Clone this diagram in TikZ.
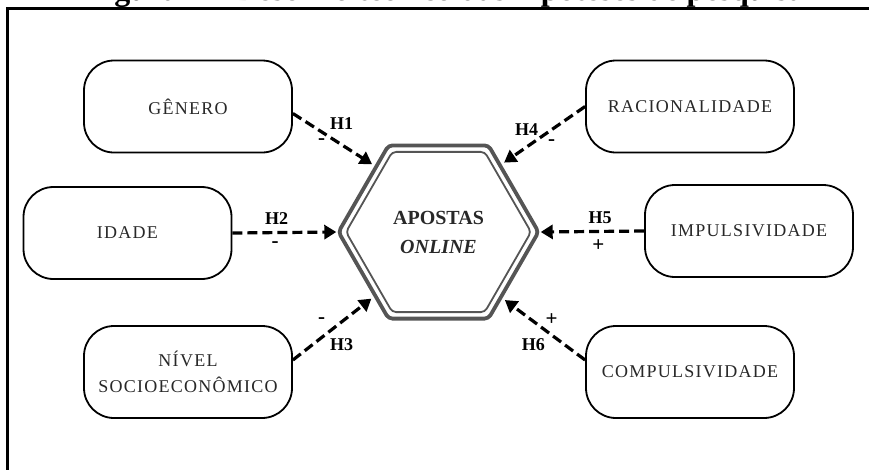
\documentclass[tikz,border=0pt]{standalone}
\usepackage{fontspec}
\setmainfont{Liberation Serif}
\newfontfamily\spacedserif[LetterSpace=7]{Liberation Serif}
\usetikzlibrary{arrows.meta,shapes.geometric,calc}
\definecolor{hexgray}{RGB}{85,85,85}
\definecolor{labelink}{RGB}{40,40,40}

\begin{document}
\begin{tikzpicture}[x=1pt,y=-1pt,
  varbox/.style={draw, line width=1.8pt, rounded corners=30pt, fill=white,
    minimum width=208pt, minimum height=92pt, inner sep=0pt, align=center,
    text=labelink, font=\spacedserif\fontsize{18}{26}\selectfont},
  hyp/.style={draw, line width=3.2pt, dash pattern=on 10pt off 5pt,
    -{Triangle[length=12pt,width=14pt]}},
  diag/.style={shorten >=3pt},
  hyplabel/.style={font=\bfseries\fontsize{18}{18}\selectfont, inner sep=0pt},
  sign/.style={font=\bfseries\fontsize{21}{21}\selectfont, inner sep=0pt},
  hexagon/.style={regular polygon, regular polygon sides=6, draw=hexgray,
    rounded corners=4pt, inner sep=0pt}
]
\useasboundingbox (0,0) rectangle (869,469);
\clip (0,0) rectangle (869,469);

% caption, cut at the top of the page
\node[anchor=base, inner sep=0pt, font=\bfseries\fontsize{32}{32}\selectfont]
  (title) at (445,0) {Figura 1 – Desenho teórico das hipóteses de pesquisa};

% frame
\draw[line width=2.2pt] (7.5,470) -- (7.5,8.5) -- (870,8.5);

% central construct
\node[hexagon, minimum size=185pt, line width=1.8pt] (hexin) at (438.5,232) {};
\node[hexagon, minimum size=200pt, line width=3.8pt, align=center,
  font=\bfseries\fontsize{20}{29}\selectfont, text=labelink] (hex) at (438.5,232)
  {APOSTAS\\\textit{ONLINE}};

% explanatory variables
\node[varbox] (gen)  at (188,106.5) {GÊNERO};
\node[varbox] (ida)  at (127.5,233) {IDADE};
\node[varbox] (niv)  at (188,372)   {NÍVEL\\SOCIOECONÔMICO};
\node[varbox] (rac)  at (690,106.5) {RACIONALIDADE};
\node[varbox] (imp)  at (749,231)   {IMPULSIVIDADE};
\node[varbox] (comp) at (690,372)   {COMPULSIVIDADE};

% hypotheses
\draw[hyp, diag] ([yshift=-7pt]gen.east) -- (hex.134);
\draw[hyp] (ida.east) -- (hex.180);
\draw[hyp, diag] ([yshift=12pt]niv.east) -- (hex.225);
\draw[hyp, diag] (rac.west) -- (hex.47);
\draw[hyp] (imp.west) -- (hex.0);
\draw[hyp, diag] ([yshift=12pt]comp.west) -- (hex.-46);

% hypothesis labels and expected signs
\node[hyplabel] (h1) at (341.7,124)   {H1};
\node[sign]     (s1) at (321.7,142)   {-};
\node[hyplabel] (h2) at (276.7,218.3) {H2};
\node[sign]     (s2) at (275,244.5)   {-};
\node[hyplabel] (h3) at (341.7,345)   {H3};
\node[sign]     (s3) at (321.7,320.5) {-};
\node[hyplabel] (h4) at (526.7,129.3) {H4};
\node[sign]     (s4) at (551.7,143)   {-};
\node[hyplabel] (h5) at (600,217.3)   {H5};
\node[sign]     (s5) at (598.3,245.7) {+};
\node[hyplabel] (h6) at (533.3,345)   {H6};
\node[sign]     (s6) at (551.7,320)   {+};
\end{tikzpicture}
\end{document}
